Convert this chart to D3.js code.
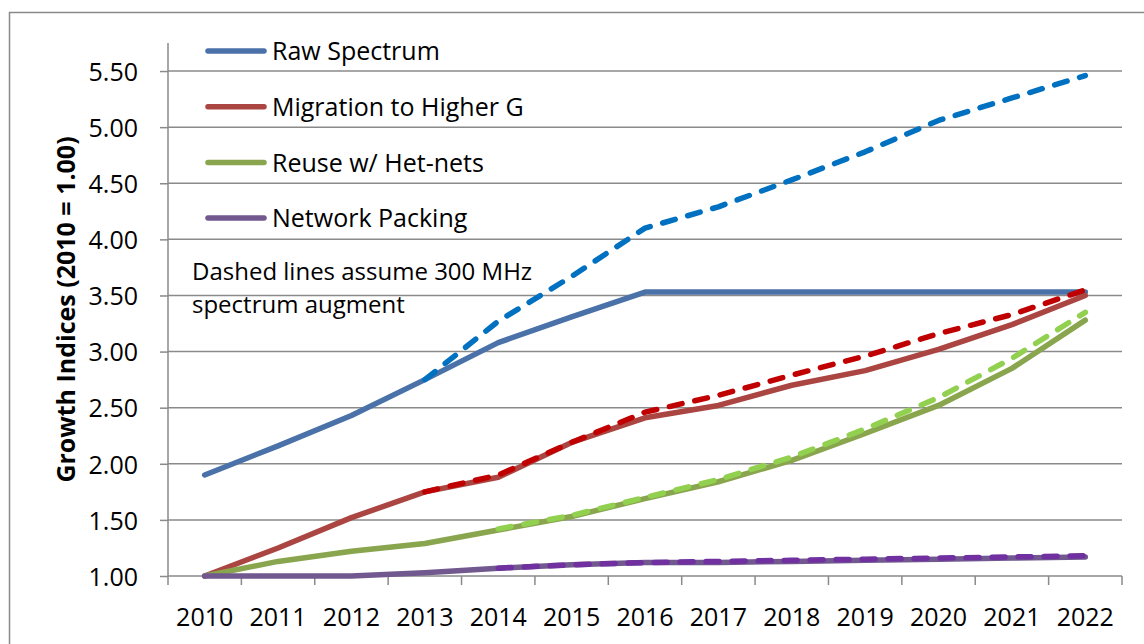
<!DOCTYPE html>
<html>
<head>
<meta charset="utf-8">
<script src="https://cdn.jsdelivr.net/npm/d3@7"></script>
<style>
  html, body { margin: 0; padding: 0; background: #fff; }
  svg { display: block; }
  text { font-family: "Open Sans", "Noto Sans", sans-serif; fill: #000; }
</style>
</head>
<body>
<svg id="chart" width="1144" height="644"></svg>
<script>
// Categories and tick labels
const years = ["2010","2011","2012","2013","2014","2015","2016","2017","2018","2019","2020","2021","2022"];
const yTicks = [1.0, 1.5, 2.0, 2.5, 3.0, 3.5, 4.0, 4.5, 5.0, 5.5];

// Base growth indices (2010 = 1.00)
const rawSpectrum = [1.90, 2.16, 2.43, 2.75, 3.08, 3.31, 3.53, 3.53, 3.53, 3.53, 3.53, 3.53, 3.53];
const migration   = [1.00, 1.25, 1.52, 1.75, 1.88, 2.19, 2.41, 2.52, 2.70, 2.83, 3.02, 3.24, 3.50];
const reuse       = [1.00, 1.13, 1.22, 1.29, 1.41, 1.53, 1.69, 1.84, 2.03, 2.27, 2.52, 2.85, 3.28];
const packing     = [1.00, 1.00, 1.00, 1.03, 1.07, 1.10, 1.12, 1.12, 1.13, 1.14, 1.15, 1.16, 1.17];

// With 300 MHz spectrum augment (dashed)
const rawSpectrumAug = [null, null, null, 2.75, 3.27, 3.67, 4.10, 4.29, 4.53, 4.78, 5.06, 5.26, 5.46];
const migrationAug   = [null, null, null, 1.75, 1.90, 2.19, 2.46, 2.61, 2.79, 2.96, 3.16, 3.33, 3.55];
const reuseAug       = [null, null, null, null, 1.42, 1.54, 1.70, 1.86, 2.06, 2.31, 2.59, 2.94, 3.35];
const packingAug     = [null, null, null, null, 1.07, 1.10, 1.12, 1.13, 1.14, 1.15, 1.16, 1.17, 1.18];

const legendNames = ["Raw Spectrum", "Migration to Higher G", "Reuse w/ Het-nets", "Network Packing"];
const noteLines = ["Dashed lines assume 300 MHz", "spectrum augment"];
const yTitle = "Growth Indices (2010 = 1.00)";

const solidColors  = ["#4a72a8", "#ab4542", "#89a54e", "#71588f"];
const dashedColors = ["#0070c0", "#c00000", "#92d050", "#7030a0"];

const solidSeries  = [rawSpectrum, migration, reuse, packing];
const dashedSeries = [rawSpectrumAug, migrationAug, reuseAug, packingAug];

const svg = d3.select("#chart");
const plotLeft = 168, plotRight = 1122, plotTop = 43, plotBottom = 576;

const x = d3.scaleBand().domain(years).range([plotLeft, plotRight]).padding(0);
const y = d3.scaleLinear().domain([1, 5.75]).range([plotBottom, plotTop]);
const cx = yr => x(yr) + x.bandwidth() / 2;

// Outer chart frame
svg.append("rect")
  .attr("x", 9.5).attr("y", 12.5)
  .attr("width", 1200).attr("height", 700)
  .attr("fill", "none").attr("stroke", "#8a8a8a").attr("stroke-width", 1.5);

// Horizontal gridlines
svg.append("g").selectAll("line").data(yTicks.slice(1)).join("line")
  .attr("x1", plotLeft).attr("x2", plotRight)
  .attr("y1", d => y(d)).attr("y2", d => y(d))
  .attr("stroke", "#8a8a8a").attr("stroke-width", 1.5);

// Y axis
const yAxis = d3.axisLeft(y).tickValues(yTicks).tickFormat(d3.format(".2f"))
  .tickSize(8).tickPadding(22);
const gy = svg.append("g").attr("transform", `translate(${plotLeft},0)`).call(yAxis);
gy.select(".domain").attr("stroke", "#8a8a8a").attr("stroke-width", 1.5)
  .attr("d", `M0,${plotTop}V${plotBottom}`);
gy.selectAll(".tick line").attr("stroke", "#8a8a8a").attr("stroke-width", 1.5);
gy.selectAll(".tick text")
  .style("font-family", '"Open Sans", sans-serif')
  .style("font-size", "25px").attr("fill", "#000").attr("dy", "0.37em");

// X axis: ticks between categories, labels centred in each band
const gx = svg.append("g").attr("transform", `translate(0,${plotBottom})`);
gx.append("line").attr("x1", plotLeft).attr("x2", plotRight).attr("y1", 0).attr("y2", 0)
  .attr("stroke", "#8a8a8a").attr("stroke-width", 1.5);
const boundaries = years.map(yr => x(yr)).concat([plotRight]);
gx.selectAll("line.tk").data(boundaries).join("line").attr("class", "tk")
  .attr("x1", d => d).attr("x2", d => d).attr("y1", 0).attr("y2", 9)
  .attr("stroke", "#8a8a8a").attr("stroke-width", 1.5);
gx.selectAll("text").data(years).join("text")
  .attr("x", d => cx(d)).attr("y", 50)
  .attr("text-anchor", "middle")
  .style("font-size", "25px")
  .text(d => d);

// Y axis title
svg.append("text")
  .attr("transform", `translate(75,${(plotTop + plotBottom) / 2}) rotate(-90)`)
  .attr("text-anchor", "middle")
  .style("font-size", "25px").style("font-weight", "bold")
  .text(yTitle);

// Series lines
const line = d3.line()
  .defined(d => d.v !== null)
  .x(d => cx(d.yr)).y(d => y(d.v));
const toPoints = arr => arr.map((v, i) => ({ yr: years[i], v }));

const lines = svg.append("g");
solidSeries.forEach((s, i) => {
  lines.append("path").datum(toPoints(s))
    .attr("d", line).attr("fill", "none")
    .attr("stroke", solidColors[i]).attr("stroke-width", 5.5)
    .attr("stroke-linejoin", "round").attr("stroke-linecap", "round");
});
dashedSeries.forEach((s, i) => {
  lines.append("path").datum(toPoints(s))
    .attr("d", line).attr("fill", "none")
    .attr("stroke", dashedColors[i]).attr("stroke-width", 5.5)
    .attr("stroke-dasharray", "13 13")
    .attr("stroke-linejoin", "round").attr("stroke-linecap", "round");
});

// Legend
const legend = svg.append("g");
legendNames.forEach((name, i) => {
  const ly = 51 + i * 55.7;
  legend.append("line")
    .attr("x1", 208).attr("x2", 264).attr("y1", ly).attr("y2", ly)
    .attr("stroke", solidColors[i]).attr("stroke-width", 5.5).attr("stroke-linecap", "round");
  legend.append("text")
    .attr("x", 272).attr("y", ly).attr("dy", "0.37em")
    .style("font-size", "25px")
    .text(name);
});

// Note about dashed lines
const note = svg.append("text").style("font-size", "24px");
noteLines.forEach((t, i) => {
  note.append("tspan").attr("x", 192).attr("y", 280 + i * 33).text(t);
});
</script>
</body>
</html>
